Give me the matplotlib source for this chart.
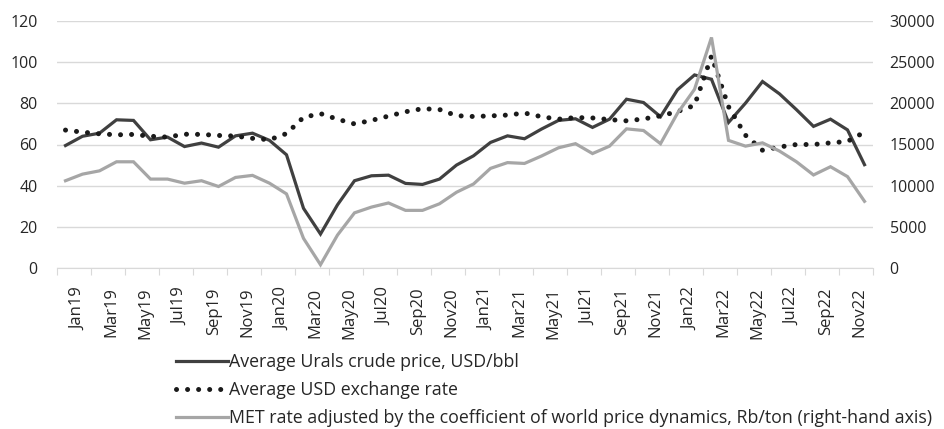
import numpy as np
import matplotlib
matplotlib.use("Agg")
import matplotlib.pyplot as plt

plt.rcParams['font.family'] = ['Open Sans', 'DejaVu Sans']

# Monthly data, Jan 2019 .. Dec 2022
urals_price = [59.5, 64.0, 65.5, 72.0, 71.7, 62.3, 63.6, 59.0, 60.7, 58.7, 64.2, 65.5,
               62.0, 55.0, 29.0, 16.5, 30.7, 42.4, 44.8, 45.1, 41.1, 40.6, 43.2, 50.0,
               54.5, 61.0, 64.2, 62.8, 67.5, 71.7, 72.5, 68.3, 72.3, 82.0, 80.4, 73.5,
               86.6, 93.8, 91.7, 70.7, 80.1, 90.6, 84.6, 76.9, 68.8, 72.3, 67.1, 50.2]

usd_rate = [67.0, 66.0, 65.2, 64.7, 64.9, 64.0, 63.6, 65.0, 64.9, 64.4, 64.1, 63.0,
            62.3, 65.3, 73.2, 75.0, 72.3, 70.0, 71.7, 73.8, 75.9, 77.4, 77.0, 74.0,
            73.6, 73.9, 74.3, 75.3, 73.5, 72.3, 73.1, 72.9, 72.1, 71.5, 72.4, 73.9,
            76.0, 79.0, 103.0, 78.4, 64.5, 57.2, 58.8, 60.0, 60.0, 60.8, 61.5, 66.0]

met_rate = [10600, 11400, 11800, 12900, 12900, 10800, 10800, 10300, 10600, 9900, 11000, 11250,
            10300, 9000, 3600, 400, 4000, 6700, 7400, 7900, 7000, 7000, 7800, 9200,
            10200, 12100, 12800, 12700, 13600, 14600, 15100, 13900, 14800, 16900, 16700, 15100,
            18800, 21700, 28000, 15500, 14800, 15200, 14200, 12900, 11300, 12300, 11100, 8100]

tick_labels = ['Jan19', 'Mar19', 'May19', 'Jul19', 'Sep19', 'Nov19',
               'Jan20', 'Mar20', 'May20', 'Jul20', 'Sep20', 'Nov20',
               'Jan21', 'Mar21', 'May21', 'Jul21', 'Sep21', 'Nov21',
               'Jan22', 'Mar22', 'May22', 'Jul22', 'Sep22', 'Nov22']

labels = ['Average Urals crude price, USD/bbl',
          'Average USD exchange rate',
          'MET rate adjusted by the coefficient of world price dynamics, Rb/ton (right-hand axis)']

x = np.arange(len(urals_price))
grid_col = '#d9d9d9'
fs = 11.5

fig = plt.figure(figsize=(9.44, 4.29), dpi=100)
ax = fig.add_axes([57 / 944, 1 - 268 / 429, 816 / 944, 247 / 429])
ax2 = ax.twinx()

l1, = ax.plot(x, urals_price, color='#404040', lw=2.3, solid_joinstyle='miter')
l2, = ax.plot(x, usd_rate, color='#1a1a1a', lw=3.6, linestyle=(0, (0.01, 2.2)),
              dash_capstyle='round')
l3, = ax2.plot(x, met_rate, color='#a6a6a6', lw=2.3, solid_joinstyle='miter')

ax.set_xlim(-0.5, len(x) - 0.5)
ax.set_ylim(0, 120)
ax2.set_ylim(0, 30000)
ax.set_yticks(np.arange(0, 121, 20))
ax2.set_yticks(np.arange(0, 30001, 5000))

ax.yaxis.grid(True, color=grid_col, lw=1)
ax.set_axisbelow(True)
for a in (ax, ax2):
    for s in a.spines.values():
        s.set_visible(False)
ax.spines['bottom'].set_visible(True)
ax.spines['bottom'].set_color(grid_col)

ax.set_xticks(np.arange(-0.5, len(x), 2))
ax.set_xticklabels([])
ax.tick_params(axis='x', which='major', length=5, color=grid_col, direction='out')
ax.set_xticks(np.arange(0, len(x), 2) + 0.72, minor=True)
ax.set_xticklabels(tick_labels, minor=True, rotation=90, fontsize=12, color='#262626')
ax.tick_params(axis='x', which='minor', length=0, pad=14)

ax.tick_params(axis='y', length=0, pad=14, labelsize=fs, labelcolor='#262626')
ax2.tick_params(axis='y', length=0, pad=12, labelsize=fs, labelcolor='#262626')

fig.legend([l1, l2, l3], labels, loc='upper left', bbox_to_anchor=(176 / 944, 1 - 353 / 429),
           frameon=False, fontsize=12.8, handlelength=2.9, handletextpad=0.1,
           labelspacing=0.56, borderpad=0, borderaxespad=0, labelcolor='#262626')

fig.savefig('out.png', dpi=100)
